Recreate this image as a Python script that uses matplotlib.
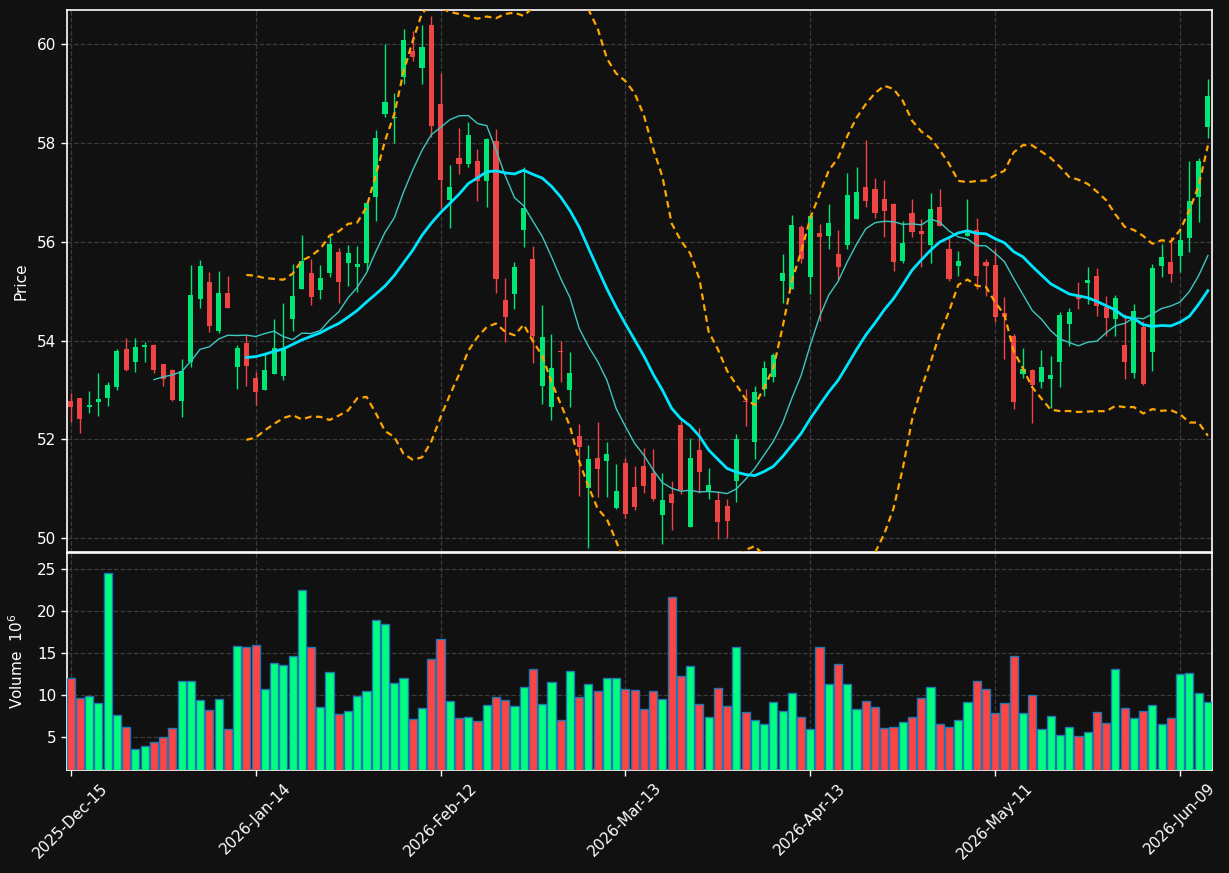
import matplotlib
matplotlib.use("Agg")
import matplotlib.pyplot as plt
import numpy as np
import pandas as pd

# OHLC, one entry per trading day
opens = [52.78, 52.84, 52.65, 52.75, 52.83, 53.05, 53.83, 53.57, 53.86, 53.91,
         53.52, 53.41, 52.78, 53.56, 54.85, 55.18, 54.19, 54.97, 53.46, 53.96,
         53.25, 52.99, 53.33, 53.29, 54.43, 55.05, 55.37, 55.03, 55.37, 55.79,
         55.56, 55.48, 55.56, 56.91, 58.58, 58.51, 59.33, 59.86, 59.51, 60.39,
         58.79, 56.85, 57.70, 57.58, 57.64, 57.22, 58.04, 54.82, 54.95, 56.23,
         55.65, 53.09, 52.65, 53.79, 52.99, 52.06, 51.01, 51.63, 51.57, 50.61,
         51.53, 51.03, 51.46, 51.32, 50.46, 50.89, 52.29, 50.23, 51.79, 50.95,
         50.77, 50.65, 51.16, 52.77, 51.94, 53.02, 53.27, 55.21, 55.05, 56.30,
         55.29, 56.18, 56.12, 55.76, 55.94, 56.47, 57.11, 57.06, 56.86, 56.76,
         55.62, 56.59, 56.22, 55.94, 56.70, 55.86, 55.51, 56.12, 56.23, 55.60,
         55.53, 54.56, 54.10, 53.33, 53.41, 53.16, 53.23, 53.56, 54.33, 54.93,
         55.16, 55.31, 54.68, 54.43, 53.90, 53.35, 54.28, 53.77, 55.51, 55.58,
         55.71, 56.07, 56.90, 58.32]
highs = [52.94, 52.84, 52.97, 53.34, 53.17, 53.83, 54.05, 54.06, 53.97, 53.94,
         53.52, 53.43, 53.63, 55.52, 55.63, 55.38, 55.40, 55.31, 53.90, 54.12,
         53.36, 53.72, 54.43, 54.77, 55.55, 56.14, 55.65, 55.52, 56.12, 55.87,
         55.94, 55.92, 56.78, 58.26, 60.00, 59.02, 60.30, 60.26, 60.38, 60.57,
         59.41, 57.55, 58.31, 58.43, 57.87, 58.09, 58.28, 55.26, 55.59, 57.51,
         55.92, 54.71, 54.13, 54.00, 53.76, 52.31, 51.89, 52.36, 51.95, 51.50,
         51.62, 51.46, 51.82, 51.80, 51.31, 51.15, 52.38, 52.02, 52.24, 51.42,
         50.95, 50.79, 52.11, 53.02, 53.07, 53.58, 53.74, 55.75, 56.54, 56.34,
         56.57, 56.36, 56.76, 56.23, 57.39, 57.51, 58.06, 57.30, 57.25, 56.79,
         56.41, 56.86, 56.46, 56.98, 57.06, 56.07, 55.81, 56.87, 56.49, 55.65,
         55.87, 54.88, 54.14, 53.85, 53.43, 53.80, 53.69, 54.57, 54.66, 55.18,
         55.49, 55.47, 54.90, 54.93, 54.53, 54.74, 54.39, 55.55, 55.96, 56.10,
         56.25, 57.64, 57.69, 59.29]
lows = [52.36, 52.13, 52.53, 52.47, 52.68, 52.99, 53.39, 53.36, 53.56, 53.34,
        53.07, 52.78, 52.45, 53.46, 54.66, 54.17, 54.15, 54.65, 53.02, 53.07,
        52.69, 52.99, 53.33, 53.20, 54.19, 55.05, 54.71, 54.85, 55.29, 54.75,
        55.10, 54.98, 55.42, 56.41, 58.52, 57.99, 59.19, 59.65, 59.19, 58.13,
        56.67, 56.28, 57.37, 57.51, 56.82, 56.70, 54.96, 53.98, 54.63, 55.89,
        53.54, 52.71, 52.39, 53.17, 52.65, 50.85, 49.80, 50.83, 50.83, 50.59,
        50.40, 50.56, 50.92, 50.76, 49.88, 50.16, 50.90, 50.22, 50.92, 50.79,
        49.99, 50.01, 50.74, 52.27, 51.61, 52.87, 53.16, 54.76, 55.05, 55.56,
        54.95, 54.39, 55.85, 55.22, 55.85, 56.47, 56.70, 56.49, 56.10, 55.40,
        55.56, 56.09, 55.49, 55.56, 56.31, 55.20, 55.30, 56.12, 55.04, 54.91,
        54.37, 53.63, 52.62, 53.25, 52.33, 53.03, 52.64, 53.05, 53.88, 54.63,
        54.74, 54.50, 54.10, 54.09, 53.22, 53.25, 53.10, 53.38, 55.29, 55.18,
        55.38, 55.80, 56.40, 58.10]
closes = [52.65, 52.42, 52.70, 52.82, 53.10, 53.79, 53.41, 53.87, 53.91, 53.41,
          53.23, 52.80, 53.38, 54.92, 55.51, 54.30, 54.97, 54.65, 53.85, 53.49,
          52.95, 53.40, 53.85, 53.83, 54.90, 55.61, 54.89, 55.26, 55.95, 55.18,
          55.77, 55.55, 56.78, 58.11, 58.82, 58.53, 60.09, 59.73, 59.94, 58.34,
          57.24, 57.11, 57.58, 58.16, 57.22, 58.08, 55.24, 54.47, 55.49, 56.69,
          54.10, 54.07, 53.45, 53.77, 53.35, 51.84, 51.60, 51.41, 51.70, 50.95,
          50.48, 50.64, 51.05, 50.79, 50.77, 50.72, 50.98, 51.63, 51.34, 51.07,
          50.32, 50.35, 52.00, 52.75, 52.96, 53.45, 53.70, 55.37, 56.34, 55.66,
          56.52, 56.09, 56.38, 55.48, 56.95, 57.01, 56.83, 56.59, 56.63, 55.58,
          55.98, 56.20, 56.16, 56.67, 56.31, 55.24, 55.61, 56.18, 55.31, 55.51,
          54.48, 54.48, 52.75, 53.43, 53.10, 53.46, 53.30, 54.52, 54.57, 54.84,
          55.22, 54.69, 54.45, 54.86, 53.56, 54.59, 53.12, 55.47, 55.69, 55.35,
          56.03, 56.82, 57.63, 58.94]
# volume in millions
volumes = [12.02, 9.64, 9.88, 9.05, 24.52, 7.62, 6.19, 3.57, 3.93, 4.40,
           5.00, 6.07, 11.67, 11.67, 9.40, 8.21, 9.52, 5.95, 15.83, 15.71,
           15.95, 10.71, 13.81, 13.57, 14.64, 22.50, 15.71, 8.57, 12.74, 7.74,
           8.10, 9.88, 10.48, 18.93, 18.45, 11.43, 12.02, 7.14, 8.45, 14.29,
           16.67, 9.29, 7.22, 7.34, 6.90, 8.81, 9.76, 9.40, 8.69, 10.95,
           13.09, 8.93, 11.55, 7.02, 12.86, 9.76, 11.31, 10.47, 12.02, 12.02,
           10.71, 10.59, 8.33, 10.47, 9.52, 21.67, 12.26, 13.45, 8.93, 7.38,
           10.83, 8.69, 15.71, 7.97, 7.02, 6.55, 9.17, 8.10, 10.24, 7.38,
           5.95, 15.71, 11.31, 13.69, 11.31, 8.33, 9.29, 8.57, 6.07, 6.19,
           6.78, 7.38, 9.64, 10.95, 6.55, 6.19, 7.02, 9.17, 11.67, 10.71,
           7.85, 9.05, 14.64, 7.85, 10.00, 5.95, 7.50, 5.24, 6.19, 5.12,
           5.59, 7.97, 6.66, 13.09, 8.45, 7.26, 8.10, 8.81, 6.55, 7.26,
           12.50, 12.62, 10.24, 9.17]
tick_labels = ["2025-Dec-15", "2026-Jan-14", "2026-Feb-12", "2026-Mar-13",
               "2026-Apr-13", "2026-May-11", "2026-Jun-09"]

BG = "#111111"
UP, DOWN = "#00e676", "#ef4444"
VUP, VDOWN = "#00ff7f", "#ff4444"
FG = "white"

df = pd.DataFrame({"open": opens, "high": highs, "low": lows,
                   "close": closes, "volume": volumes})
x = np.arange(len(df))
up = df["close"] >= df["open"]

ma_fast = df["close"].rolling(10).mean()
ma_slow = df["close"].rolling(20).mean()
std20 = df["close"].rolling(20).std(ddof=0)
bb_up = ma_slow + 2 * std20
bb_lo = ma_slow - 2 * std20

fig = plt.figure(figsize=(12.29, 8.73), dpi=100, facecolor=BG)
ax = fig.add_axes([0.0545, 0.3677, 0.9317, 0.6208], facecolor=BG)
axv = fig.add_axes([0.0545, 0.118, 0.9317, 0.2486], facecolor=BG, sharex=ax)

# candles
ax.vlines(x, df["low"], df["high"], colors=np.where(up, UP, DOWN), lw=1, zorder=2)
body_lo = np.minimum(df["open"], df["close"])
body_h = np.maximum((df["close"] - df["open"]).abs(), 0.02)
ax.bar(x, body_h, bottom=body_lo, width=0.55, color=np.where(up, UP, DOWN),
       linewidth=0, zorder=3)

ax.plot(x, ma_fast, color="#3cc8c0", lw=1.0, zorder=4)
ax.plot(x, ma_slow, color="#00e5ff", lw=2.0, zorder=4)
ax.plot(x, bb_up, color="#ffa500", lw=1.6, ls=(0, (3, 2)), zorder=4)
ax.plot(x, bb_lo, color="#ffa500", lw=1.6, ls=(0, (3, 2)), zorder=4)

axv.bar(x, df["volume"], width=0.88, color=np.where(up, VUP, VDOWN),
        edgecolor="#1f77b4", linewidth=1.0, zorder=3)

ax.set_xlim(-0.4, 123.45)
ax.set_ylim(49.72, 60.69)
ax.set_yticks(np.arange(50, 61, 2))
axv.set_ylim(1.08, 26.95)
axv.set_yticks([5, 10, 15, 20, 25])

ticks = x[::20]
axv.set_xticks(ticks)
axv.set_xticklabels(tick_labels, rotation=45)
ax.tick_params(axis="x", labelbottom=False)

for a in (ax, axv):
    a.grid(True, color="#3c3c3c", ls="--", lw=0.9, zorder=0)
    a.set_axisbelow(True)
    for s in a.spines.values():
        s.set_color(FG)
        s.set_linewidth(1.2)
    a.tick_params(colors=FG, labelsize=11, length=4, width=1)

ax.set_ylabel("Price", color=FG, fontsize=11)
axv.set_ylabel(r"Volume  $10^{6}$", color=FG, fontsize=11)
ax.yaxis.set_label_coords(-0.034, 0.5)
axv.yaxis.set_label_coords(-0.0358, 0.5)

fig.savefig("out.png", dpi=100, facecolor=BG)
